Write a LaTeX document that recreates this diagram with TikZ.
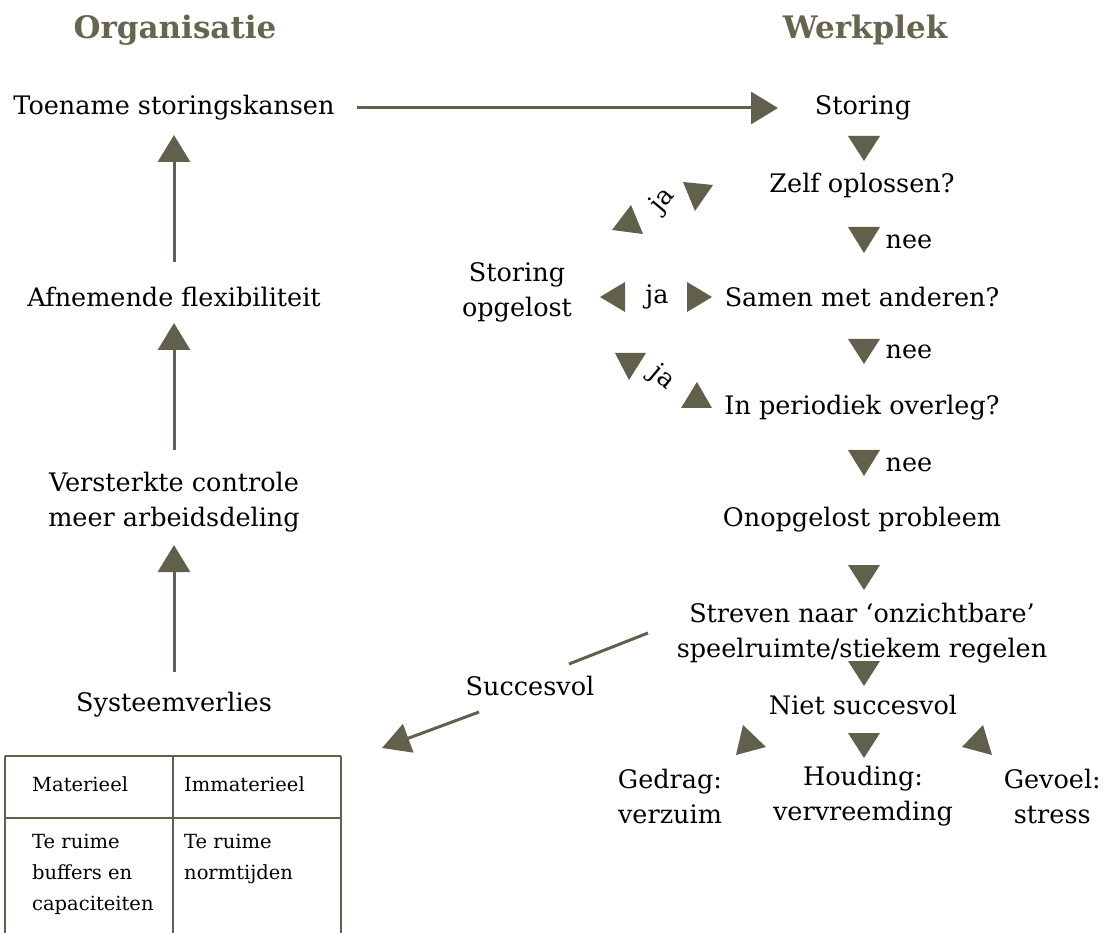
\documentclass[tikz,border=0pt]{standalone}
\usepackage{fontspec}
\setmainfont{DejaVu Serif}
\usetikzlibrary{arrows.meta}
\definecolor{olive}{RGB}{96,96,76}
\definecolor{ttl}{RGB}{102,102,80}
\begin{document}
\begin{tikzpicture}[x=1pt,y=-1pt,
  txt/.style={inner sep=0pt, font=\fontsize{25.5}{35}\selectfont, align=center},
  ttlstyle/.style={inner sep=0pt, font=\fontsize{31}{36}\selectfont\bfseries, text=ttl},
  small/.style={inner sep=0pt, font=\fontsize{19.5}{31}\selectfont, align=left, anchor=north west},
  conn/.style={draw=olive, line width=3pt, -{Triangle[length=27pt,width=32pt]}},
  plainline/.style={draw=olive, line width=3pt},
  tbl/.style={draw=olive, line width=1.5pt},
  tri/.style={fill=olive}]
\useasboundingbox (0,0) rectangle (1104,933);

% titles
\node[ttlstyle] (torg) at (175,30) {Organisatie};
\node[ttlstyle] (twerk) at (865,30) {Werkplek};

% left column
\node[txt] (toe) at (174,108) {Toename storingskansen};
\node[txt] (afn) at (174,297) {Afnemende flexibiliteit};
\node[txt] (ver) at (174,502) {Versterkte controle\\meer arbeidsdeling};
\node[txt] (sys) at (174,705) {Systeemverlies};

% right column
\node[txt] (sto) at (863,108) {Storing};
\node[txt] (zelf) at (862,185) {Zelf oplossen?};
\node[txt] (samen) at (862,297) {Samen met anderen?};
\node[txt] (inp) at (862,408) {In periodiek overleg?};
\node[txt] (onop) at (862,520) {Onopgelost probleem};
\node[txt] (str) at (862,633) {Streven naar ‘onzichtbare’\\speelruimte/stiekem regelen};
\node[txt] (niet) at (863,705) {Niet succesvol};
\node[txt] (ged) at (670,796) {Gedrag:\\verzuim};
\node[txt] (hou) at (863,796) {Houding:\\vervreemding};
\node[txt, anchor=east] (gev) at (1101,796) {Gevoel:\\stress};

\node[txt] (nee1) at (909,242) {nee};
\node[txt] (nee2) at (909,352) {nee};
\node[txt] (nee3) at (909,465) {nee};

% storing opgelost
\node[txt] (opg) at (517,292) {Storing\\opgelost};
\node[txt] (ja1) at (663,200) [rotate=50] {ja};
\node[txt] (ja2) at (657,297) {ja};
\node[txt] (ja3) at (662,378) [rotate=-40] {ja};

\node[txt] (succ) at (530,686) {Succesvol};

% connectors
\draw[conn, shorten <=183pt, shorten >=85pt] (toe.center) -- (sto.center);
\draw[conn, shorten <=35pt, shorten >=27pt] (afn.center) -- (toe.center);
\draw[conn, shorten <=52pt, shorten >=26pt] (ver.center) -- (afn.center);
\draw[conn, shorten <=33pt, shorten >=43pt] (sys.center) -- (ver.center);

\coordinate (s1) at (648,633);
\coordinate (s2) at (569,664);
\coordinate (s3) at (479,712);
\coordinate (s4) at (382,748);
\draw[plainline] (s1) -- (s2);
\draw[draw=olive, line width=3pt, -{Triangle[length=28pt,width=30pt]}] (s3) -- (s4);

% flow triangles
\fill[tri] (848,136) -- (880,136) -- (864,161) -- cycle;
\fill[tri] (848,227) -- (880,227) -- (864,253) -- cycle;
\fill[tri] (848,339) -- (880,339) -- (864,364) -- cycle;
\fill[tri] (848,450) -- (880,450) -- (864,476) -- cycle;
\fill[tri] (848,565) -- (880,565) -- (864,590) -- cycle;
\fill[tri] (848,661) -- (880,661) -- (864,686) -- cycle;
\fill[tri] (848,733) -- (880,733) -- (864,758) -- cycle;
\fill[tri] (736,755) -- (743,725) -- (766,747) -- cycle;
\fill[tri] (983,725) -- (962,747) -- (992,755) -- cycle;

% ja triangles
\fill[tri] (612,230) -- (631,205) -- (643,234) -- cycle;
\fill[tri] (683,182) -- (713,185) -- (695,211) -- cycle;
\fill[tri] (600,297) -- (625,282) -- (625,312) -- cycle;
\fill[tri] (712,297) -- (687,282) -- (687,312) -- cycle;
\fill[tri] (615,353) -- (646,353) -- (629,380) -- cycle;
\fill[tri] (681,408) -- (712,408) -- (697,382) -- cycle;

% table
\draw[tbl] (5,756) -- (341,756);
\draw[tbl] (5,818) -- (341,818);
\draw[tbl] (5,756) -- (5,933);
\draw[tbl] (173,756) -- (173,933);
\draw[tbl] (341,756) -- (341,933);
\node[small, anchor=west] (m1) at (32,784) {Materieel};
\node[small, anchor=west] (m2) at (184,784) {Immaterieel};
\node[small] (m3) at (32,834) {Te ruime\\buffers en\\capaciteiten};
\node[small] (m4) at (184,834) {Te ruime\\normtijden};
\end{tikzpicture}
\end{document}
